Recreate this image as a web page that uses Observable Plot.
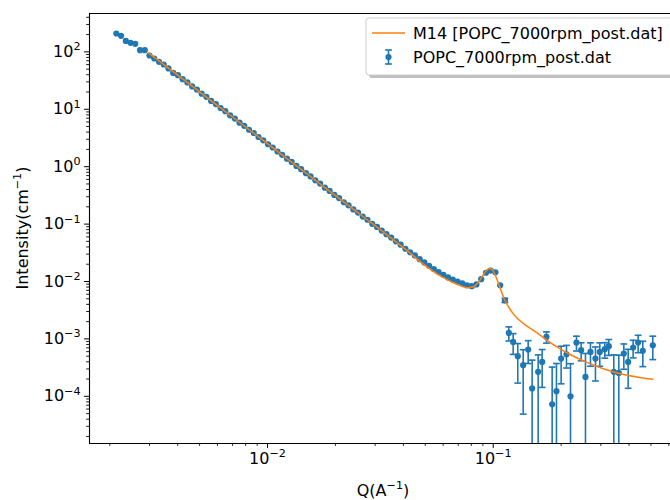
<!DOCTYPE html>
<html><head><meta charset="utf-8">
<script src="https://cdn.jsdelivr.net/npm/d3@7"></script>
<script src="https://cdn.jsdelivr.net/npm/@observablehq/plot@0.6"></script>
<style>
html,body{margin:0;padding:0;background:#fff;overflow:hidden}
#chart{width:670px;height:500px}
</style></head><body><div id="chart"></div>
<script>
const seriesNames = ["M14 [POPC_7000rpm_post.dat]", "POPC_7000rpm_post.dat"];
const xLabelParts = [["Q(A", false], ["−1", true], [")", false]];
const yLabelParts = [["Intensity(cm", false], ["−1", true], [")", false]];

const dataQ = [
  0.002138, 0.002244, 0.002355, 0.002472, 0.002594, 0.002723, 0.002858, 0.002999, 0.003148, 0.003304, 0.003467, 0.003639, 0.003819,
  0.004009, 0.004207, 0.004416, 0.004634, 0.004864, 0.005105, 0.005358, 0.005623, 0.005902, 0.006194, 0.006501, 0.006823, 0.007161, 0.007516, 0.007889, 0.008279, 0.008690, 0.009120, 0.009572,
  0.01005, 0.01054, 0.01107, 0.01161, 0.01219, 0.01279, 0.01343, 0.01409, 0.01479, 0.01552, 0.01629, 0.01710, 0.01795, 0.01884, 0.01977, 0.02075, 0.02178, 0.02286, 0.02399, 0.02518, 0.02642, 0.02773, 0.02911, 0.03055, 0.03206, 0.03365, 0.03532, 0.03707, 0.03890,
  0.04083, 0.04285, 0.04498, 0.04721, 0.04955, 0.05200, 0.05458, 0.05728, 0.06012, 0.06310, 0.06622, 0.06950, 0.07295, 0.07656, 0.08035, 0.08433, 0.08851, 0.09290, 0.09750, 0.1023, 0.1074, 0.1127,
  0.1173, 0.1226, 0.1285, 0.1358, 0.1429, 0.1488, 0.1582, 0.1648, 0.1722, 0.1825, 0.1907, 0.2000, 0.2112, 0.2201, 0.2339, 0.2453, 0.2564, 0.2698, 0.2839, 0.2967, 0.3123, 0.3253, 0.3423, 0.3602, 0.3792, 0.3963, 0.4170, 0.4388, 0.4602, 0.5097
];
const dataI = [
  209, 190, 155, 144, 138, 107, 107, 86.5, 76.7, 67.0, 60.3, 51.4, 43.0,
  39.3, 33.5, 29.4, 25.0, 22.0, 18.7, 16.5, 14.0, 12.3, 10.5, 9.25, 7.85, 6.90, 5.85, 5.15, 4.40, 3.86, 3.29, 2.88,
  2.46, 2.16, 1.84, 1.61, 1.38, 1.21, 1.03, 0.905, 0.772, 0.676, 0.578, 0.507, 0.431, 0.379, 0.322, 0.284, 0.240, 0.212, 0.180, 0.159, 0.135, 0.119, 0.101, 0.0892, 0.0770, 0.0668, 0.0582, 0.0502, 0.0438,
  0.0372, 0.0322, 0.0285, 0.0245, 0.0215, 0.0188, 0.0165, 0.0146, 0.0131, 0.0118, 0.0108, 0.0100, 0.0093, 0.0086, 0.0083, 0.0089, 0.0110, 0.0142, 0.0155, 0.0145, 0.0086, 0.0047,
  1.27e-3, 8.87e-4, 5.0e-4, 3.49e-4, 6.53e-4, 1.37e-4, 2.67e-4, 3.98e-4, 1.085e-3, 7.28e-5, 1.23e-4, 4.55e-4, 5.41e-4, 1.0e-4, 8.65e-4, 6.36e-4, 2.18e-4, 5.94e-4, 4.55e-4, 5.94e-4, 6.62e-4, 7.46e-4, 2.67e-4, 2.56e-4, 5.56e-4, 3.98e-4, 7.07e-4, 8.65e-4, 6.19e-4, 7.76e-4
];
const dataErr = [
  0, 0, 0, 0, 0, 0, 0, 0, 0, 0, 0, 0, 0,
  0, 0, 0, 0, 0, 0, 0, 0, 0, 0, 0, 0, 0, 0, 0, 0, 0, 0, 0,
  0, 0, 0, 0, 0, 0, 0, 0, 0, 0, 0, 0, 0, 0, 0, 0, 0, 0, 0, 0, 0, 0, 0, 0, 0, 0, 0, 0, 0,
  0, 0, 0, 0, 0, 0, 0, 0, 0, 0, 0, 0, 0, 0, 0, 0, 0, 0, 0, 0, 0, 4.0e-4,
  3.5e-4, 3.5e-4, 3.3e-4, 3.0e-4, 2.8e-4, 2.9e-4, 2.6e-4, 2.55e-4, 2.4e-4, 2.5e-4, 2.5e-4, 2.9e-4, 2.3e-4, 2.7e-4, 2.5e-4, 2.2e-4, 3.4e-4, 2.6e-4, 2.7e-4, 2.6e-4, 2.0e-4, 2.3e-4, 2.6e-4, 2.65e-4, 2.6e-4, 2.6e-4, 2.4e-4, 2.9e-4, 2.9e-4, 3.4e-4
];

const fitQ = [0.00297, 0.0035, 0.0045, 0.006, 0.008, 0.011, 0.015, 0.02, 0.027, 0.035, 0.042, 0.048, 0.054, 0.06, 0.066, 0.072, 0.077, 0.081, 0.085, 0.088, 0.091, 0.0935, 0.096, 0.0985, 0.101, 0.104, 0.108, 0.112, 0.117, 0.123, 0.13, 0.14, 0.152, 0.17, 0.19, 0.22, 0.26, 0.31, 0.37, 0.44, 0.51];
const fitI = [96, 58.7, 27.6, 11.6, 4.91, 1.89, 0.745, 0.314, 0.1278, 0.0587, 0.0335, 0.0215, 0.0152, 0.0118, 0.0097, 0.0084, 0.0078, 0.0080, 0.0092, 0.0110, 0.0136, 0.0157, 0.0168, 0.0162, 0.0142, 0.0108, 0.0072, 0.0049, 0.0036, 0.0027, 0.00215, 0.0017, 0.00138, 0.00100, 0.00074, 0.00053, 0.00039, 0.00030, 0.000245, 0.000215, 0.000198];

const xMajor = [0.01, 0.1];
const xMinor = [0.002,0.003,0.004,0.005,0.006,0.007,0.008,0.009,0.02,0.03,0.04,0.05,0.06,0.07,0.08,0.09,0.2,0.3,0.4,0.5,0.6];
const yMajor = [1e-4, 1e-3, 1e-2, 1e-1, 1, 10, 100];
const yMinor = [2e-5,3e-5,4e-5,5e-5,6e-5,7e-5,8e-5,9e-5,2e-4,3e-4,4e-4,5e-4,6e-4,7e-4,8e-4,9e-4,2e-3,3e-3,4e-3,5e-3,6e-3,7e-3,8e-3,9e-3,2e-2,3e-2,4e-2,5e-2,6e-2,7e-2,8e-2,9e-2,0.2,0.3,0.4,0.5,0.6,0.7,0.8,0.9,2,3,4,5,6,7,8,9,20,30,40,50,60,70,80,90,200,300,400];

const xDomain = [0.001626, 0.6105];
const yDomain = [1.507e-5, 466];

const blue = "#1f77b4", orange = "#ff7f0e";
const FS = 16;
const fmt = d => "10^" + String(Math.round(Math.log10(d))).replace("-", "−");

const pts = dataQ.map((q, i) => ({q, I: dataI[i], e: dataErr[i]}));
const bars = pts.filter(d => d.e > 0).map(d => {
  const lo = d.I - d.e;
  return {q: d.q, top: d.I + d.e, bot: lo > yDomain[0] ? lo : yDomain[0] * 0.5, botCap: lo > yDomain[0]};
});
const fit = fitQ.map((q, i) => ({q, I: fitI[i]}));
const cap = {draw(ctx, size) { const r = Math.sqrt(size / Math.PI); ctx.moveTo(-r, 0); ctx.lineTo(r, 0); }};

const plot = Plot.plot({
  width: 670, height: 500,
  marginLeft: 89, marginRight: 0, marginTop: 13, marginBottom: 57,
  style: {fontFamily: "DejaVu Sans", fontSize: FS + "px", color: "#000", background: "#fff", overflow: "visible"},
  x: {type: "log", domain: xDomain},
  y: {type: "log", domain: yDomain},
  marks: [
    Plot.ruleX(bars, {x: "q", y1: "bot", y2: "top", stroke: blue, strokeWidth: 1.6, clip: true}),
    Plot.dot(bars, {x: "q", y: "top", symbol: cap, r: 3.4, stroke: blue, strokeWidth: 1.6, fill: "none"}),
    Plot.dot(bars.filter(d => d.botCap), {x: "q", y: "bot", symbol: cap, r: 3.4, stroke: blue, strokeWidth: 1.6, fill: "none"}),
    Plot.dot(pts, {x: "q", y: "I", r: 3.1, fill: blue, stroke: "none"}),
    Plot.line(fit, {x: "q", y: "I", stroke: orange, strokeWidth: 1.5, curve: "monotone-x"}),
    Plot.axisX({ticks: xMinor, tickFormat: () => "", tickSize: 2.8, label: null, strokeWidth: 0.9}),
    Plot.axisX({ticks: xMajor, tickFormat: fmt, tickSize: 4.9, tickPadding: 4, label: null, strokeWidth: 1}),
    Plot.axisY({ticks: yMinor, tickFormat: () => "", tickSize: 2.8, label: null, strokeWidth: 0.9}),
    Plot.axisY({ticks: yMajor, tickFormat: fmt, tickSize: 4.9, tickPadding: 4, label: null, strokeWidth: 1}),
    Plot.ruleY([yDomain[0]], {stroke: "#000", strokeWidth: 1.1}),
    Plot.ruleY([yDomain[1]], {stroke: "#000", strokeWidth: 1.1}),
    Plot.ruleX([xDomain[0]], {stroke: "#000", strokeWidth: 1.1})
  ]
});
document.getElementById("chart").appendChild(plot);

const svg = d3.select(plot);

// write text with superscript parts
function writeParts(sel, parts) {
  sel.text(null);
  let raised = false;
  parts.forEach(([s, sup]) => {
    const t = sel.append("tspan").text(s);
    if (sup && !raised) { t.attr("font-size", FS * 0.7).attr("dy", -FS * 0.42); raised = true; }
    else if (!sup && raised) { t.attr("dy", FS * 0.42); raised = false; }
  });
}
// superscripted tick labels
svg.selectAll("text").each(function() {
  const el = d3.select(this);
  const s = el.text();
  if (/^10\^/.test(s)) writeParts(el, [["10", false], [s.slice(3), true]]);
});

writeParts(svg.append("text").attr("x", 383).attr("y", 496).attr("text-anchor", "middle")
  .attr("font-size", FS).attr("fill", "#000"), xLabelParts);
writeParts(svg.append("text").attr("transform", "translate(28,228) rotate(-90)").attr("text-anchor", "middle")
  .attr("font-size", FS).attr("fill", "#000"), yLabelParts);

// legend
const lg = svg.append("g").attr("text-anchor", "start");
lg.append("rect").attr("x", 369).attr("y", 21).attr("width", 330).attr("height", 57).attr("rx", 3)
  .attr("fill", "#808080").attr("opacity", 0.5);
lg.append("rect").attr("x", 366).attr("y", 18).attr("width", 330).attr("height", 57).attr("rx", 3)
  .attr("fill", "#fff").attr("stroke", "#cccccc").attr("stroke-width", 1);
lg.append("line").attr("x1", 372).attr("x2", 405).attr("y1", 33).attr("y2", 33)
  .attr("stroke", orange).attr("stroke-width", 1.5);
lg.append("line").attr("x1", 388.5).attr("x2", 388.5).attr("y1", 50).attr("y2", 64)
  .attr("stroke", blue).attr("stroke-width", 1.6);
lg.append("line").attr("x1", 385.1).attr("x2", 391.9).attr("y1", 50).attr("y2", 50).attr("stroke", blue).attr("stroke-width", 1.6);
lg.append("line").attr("x1", 385.1).attr("x2", 391.9).attr("y1", 64).attr("y2", 64).attr("stroke", blue).attr("stroke-width", 1.6);
lg.append("circle").attr("cx", 388.5).attr("cy", 57).attr("r", 3.1).attr("fill", blue);
lg.append("text").attr("x", 413).attr("y", 39).attr("text-anchor", "start").attr("font-size", FS).attr("fill", "#000").text(seriesNames[0]);
lg.append("text").attr("x", 413).attr("y", 63).attr("text-anchor", "start").attr("font-size", FS).attr("fill", "#000").text(seriesNames[1]);
</script>
</body></html>
